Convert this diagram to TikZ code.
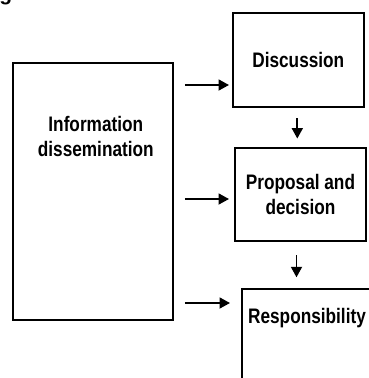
\documentclass[tikz,border=0pt]{standalone}
\usepackage{fontspec}
\setmainfont{Liberation Sans}
\newfontfamily\narrowbf{Liberation Sans Bold}[FakeStretch=0.82]
\usetikzlibrary{arrows.meta}
\newcommand\boxfont{\narrowbf\fontsize{21}{25.5}\selectfont}

\begin{document}
\begin{tikzpicture}[x=1pt,y=-1pt,
  box/.style={draw,line width=2pt,inner sep=0pt,align=center,font=\boxfont},
  lbl/.style={inner sep=0pt,align=center,font=\boxfont},
  feed/.style={line width=1.8pt,-{Triangle[length=10.5pt,width=11pt]}}]
\useasboundingbox (0,0) rectangle (369,378);
\node[lbl,anchor=base west,font=\bfseries\fontsize{21}{25}\selectfont] (figtag) at (-0.8,0){g};
\node[box,minimum width=160pt,minimum height=257pt] (info) at (92.8,191.5){};
\node[lbl] (infotext) at (95.8,136.5){Information\\dissemination};
\node[box,minimum width=131pt,minimum height=94pt] (disc) at (298.3,60.3){Discussion};
\node[box,minimum width=131pt,minimum height=93.5pt] (prop) at (300.5,194.3){Proposal and\\decision};
\node[box,minimum width=131pt,minimum height=100pt] (resp) at (307.2,339.3){};
\node[lbl,anchor=base] (resptext) at (307,323.3){Responsibility};
\coordinate (row1) at (0,85);
\coordinate (row2) at (0,199);
\coordinate (row3) at (0,303);
\coordinate (tips) at (229,0);
\draw[feed,shorten <=11pt] (info.east |- row1) -- (tips |- row1);
\draw[feed,shorten <=11pt] (info.east |- row2) -- (tips |- row2);
\draw[feed,shorten <=11pt] (info.east |- row3) -- ([xshift=1pt]tips |- row3);
\draw[feed,shorten <=10pt,shorten >=8pt] ([xshift=-1pt]disc.south) -- ([xshift=-1pt]disc.south |- prop.north);
\draw[feed,shorten <=13pt,shorten >=11pt] ([xshift=-4pt]prop.south) -- ([xshift=-4pt]prop.south |- resp.north);
\end{tikzpicture}
\end{document}
